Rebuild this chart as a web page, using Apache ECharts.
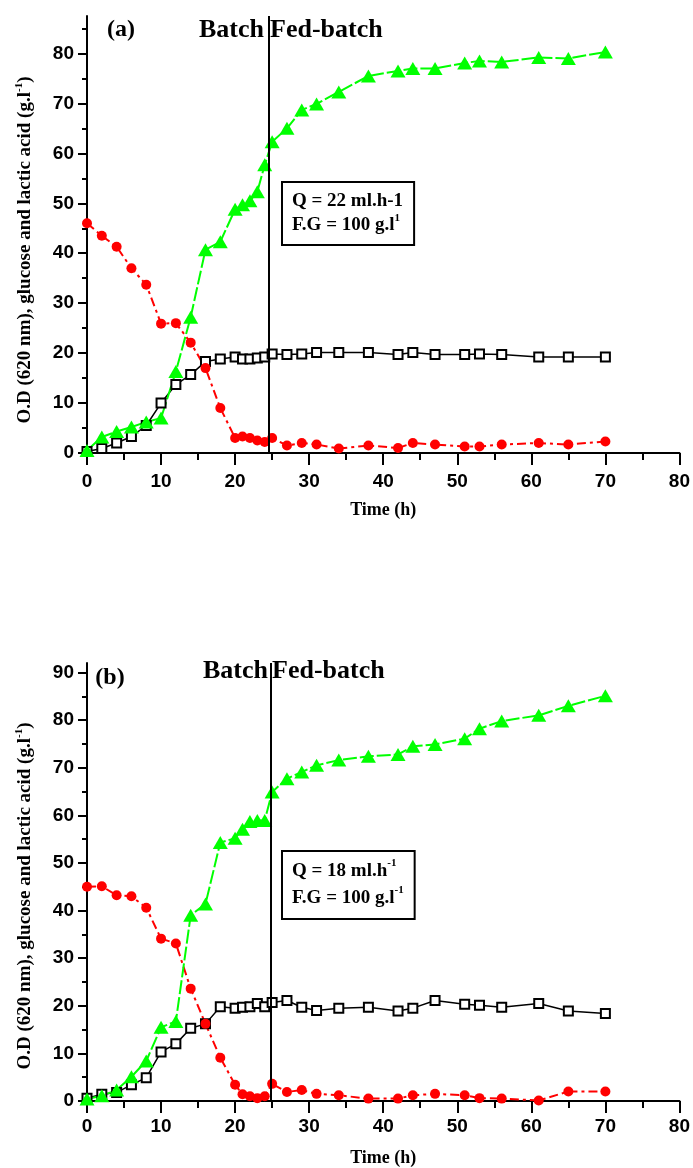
<!DOCTYPE html>
<html>
<head>
<meta charset="utf-8">
<title>Batch / Fed-batch</title>
<script src="https://cdn.jsdelivr.net/npm/echarts@6/dist/echarts.min.js"></script>
<style>
  html, body { margin: 0; padding: 0; background: #fff; }
  #main { width: 693px; height: 1168px; }
</style>
</head>
<body>
<div id="main"></div>
<script>
// sampling times (h), shared by both runs
var hours = [0, 2, 4, 6, 8, 10, 12, 14, 16, 18, 20, 21, 22, 23, 24, 25, 27, 29, 31, 34, 38, 42, 44, 47, 51, 53, 56, 61, 65, 70];

// (a) Q = 22 ml/h
var odA = [0.3, 0.9, 2.0, 3.3, 5.5, 10.0, 13.7, 15.7, 18.3, 18.8, 19.2, 18.8, 18.8, 19.0, 19.2, 19.8, 19.7, 19.8, 20.1, 20.1, 20.1, 19.7, 20.1, 19.7, 19.7, 19.8, 19.7, 19.2, 19.2, 19.2];
var glucoseA = [46.0, 43.5, 41.3, 37.0, 33.7, 25.9, 26.0, 22.1, 17.0, 9.0, 3.0, 3.3, 3.0, 2.5, 2.2, 3.0, 1.5, 2.0, 1.7, 0.9, 1.5, 1.0, 2.0, 1.7, 1.3, 1.3, 1.7, 2.0, 1.7, 2.3];
var lacticA = [0.5, 3.2, 4.3, 5.2, 6.2, 7.0, 16.3, 27.2, 40.7, 42.3, 48.8, 49.7, 50.5, 52.3, 57.7, 62.3, 65.0, 68.7, 69.9, 72.3, 75.5, 76.5, 77.0, 77.0, 78.1, 78.5, 78.3, 79.2, 79.0, 80.3];

// (b) Q = 18 ml/h
var odB = [0.6, 1.4, 1.8, 3.4, 4.9, 10.3, 12.0, 15.3, 16.2, 19.8, 19.5, 19.7, 19.8, 20.5, 19.8, 20.7, 21.1, 19.7, 19.0, 19.5, 19.7, 18.9, 19.5, 21.1, 20.3, 20.1, 19.7, 20.5, 18.9, 18.4];
var glucoseB = [45.0, 45.1, 43.2, 43.0, 40.6, 34.1, 33.1, 23.6, 16.2, 9.1, 3.4, 1.4, 1.0, 0.6, 1.0, 3.6, 1.9, 2.3, 1.5, 1.2, 0.5, 0.5, 1.2, 1.5, 1.2, 0.6, 0.5, 0.1, 2.0, 2.0];
var lacticB = [0.4, 1.1, 2.3, 5.1, 8.4, 15.5, 16.7, 39.0, 41.4, 54.3, 55.2, 57.1, 58.7, 58.9, 58.9, 64.9, 67.7, 69.1, 70.5, 71.6, 72.4, 72.8, 74.5, 74.9, 76.1, 78.2, 79.8, 81.0, 83.0, 85.1];

// switch from batch to fed-batch (h)
var switchA = 24.5;
var switchB = 24.8;

// axis ticks
var xTicks = [0, 10, 20, 30, 40, 50, 60, 70, 80];
var yTicksA = [0, 10, 20, 30, 40, 50, 60, 70, 80];
var yMinorA = [5, 15, 25, 35, 45, 55, 65, 75, 85];
var yTicksB = [0, 10, 20, 30, 40, 50, 60, 70, 80, 90];
var yMinorB = [5, 15, 25, 35, 45, 55, 65, 75, 85];
var yMaxA = 87.5;
var yMaxB = 92;

var serif = 'Liberation Serif';
var sans = 'Liberation Sans';

function pairs(xs, ys) {
  var out = [];
  for (var i = 0; i < xs.length; i++) {
    out.push([xs[i], ys[i]]);
  }
  return out;
}

function xAxisFor(gridIndex, labelMargin, nameGap) {
  return {
    type: 'value',
    gridIndex: gridIndex,
    min: xTicks[0],
    max: xTicks[xTicks.length - 1],
    interval: 10,
    name: 'Time (h)',
    nameLocation: 'middle',
    nameGap: nameGap,
    nameTextStyle: { fontFamily: serif, fontWeight: 'bold', fontSize: 18, color: '#000' },
    axisLine: { lineStyle: { color: '#000', width: 2 } },
    axisTick: { length: 12, lineStyle: { color: '#000', width: 2 } },
    minorTick: { show: true, splitNumber: 2, length: 7, lineStyle: { color: '#000', width: 2 } },
    axisLabel: { margin: labelMargin, fontFamily: sans, fontWeight: 'bold', fontSize: 19, color: '#000' },
    splitLine: { show: false },
    minorSplitLine: { show: false }
  };
}

function yAxisMain(gridIndex, max, ticks) {
  return {
    type: 'value',
    gridIndex: gridIndex,
    position: 'left',
    min: 0,
    max: max,
    axisLine: { show: true, lineStyle: { color: '#000', width: 2 } },
    axisTick: { show: true, length: 9, customValues: ticks, lineStyle: { color: '#000', width: 2 } },
    axisLabel: { margin: 13, customValues: ticks, fontFamily: sans, fontWeight: 'bold', fontSize: 19, color: '#000' },
    splitLine: { show: false }
  };
}

// second axis on the same side, only to draw the short half-step ticks
function yAxisMinor(gridIndex, max, ticks) {
  return {
    type: 'value',
    gridIndex: gridIndex,
    position: 'left',
    offset: 0,
    min: 0,
    max: max,
    axisLine: { show: false },
    axisTick: { show: true, length: 5, customValues: ticks, lineStyle: { color: '#000', width: 2 } },
    axisLabel: { show: false },
    splitLine: { show: false }
  };
}

function seriesFor(xi, yi, od, glucose, lactic, switchAt) {
  return [
    {
      name: 'O.D',
      type: 'line',
      xAxisIndex: xi,
      yAxisIndex: yi,
      data: pairs(hours, od),
      symbol: 'rect',
      symbolSize: 9,
      itemStyle: { color: '#fff', borderColor: '#000', borderWidth: 2 },
      lineStyle: { color: '#000', width: 1.5 },
      markLine: {
        silent: true,
        symbol: ['none', 'none'],
        label: { show: false },
        lineStyle: { color: '#000', width: 2, type: 'solid' },
        data: [{ xAxis: switchAt }]
      }
    },
    {
      name: 'Glucose',
      type: 'line',
      xAxisIndex: xi,
      yAxisIndex: yi,
      data: pairs(hours, glucose),
      symbol: 'circle',
      symbolSize: 10,
      itemStyle: { color: '#ff0000' },
      lineStyle: { color: '#ff0000', width: 2, type: [9, 4, 3, 4] }
    },
    {
      name: 'Lactic acid',
      type: 'line',
      xAxisIndex: xi,
      yAxisIndex: yi,
      data: pairs(hours, lactic),
      symbol: 'triangle',
      symbolSize: [15, 13],
      itemStyle: { color: '#00ff00' },
      lineStyle: { color: '#00ff00', width: 2, type: [14, 3] }
    }
  ];
}

var titleFont = { fontFamily: serif, fontWeight: 'bold', fill: '#000' };
var yName = '{n|O.D (620 nm), glucose and lactic acid (g.l}{s|-1}{n|)}';
var yNameRich = {
  n: { fontFamily: serif, fontWeight: 'bold', fontSize: 19, lineHeight: 22, color: '#000' },
  s: { fontFamily: serif, fontWeight: 'bold', fontSize: 11, lineHeight: 22, verticalAlign: 'top', color: '#000' }
};

function boxRich(lh) {
  return {
    t: { fontFamily: serif, fontWeight: 'bold', fontSize: 19, lineHeight: lh, color: '#000' },
    s: { fontFamily: serif, fontWeight: 'bold', fontSize: 11, lineHeight: lh, verticalAlign: 'top', color: '#000' }
  };
}

function label(x, y, text, size, align) {
  return {
    type: 'text',
    x: x,
    y: y,
    silent: true,
    style: {
      text: text,
      fontFamily: titleFont.fontFamily,
      fontWeight: titleFont.fontWeight,
      fontSize: size,
      fill: titleFont.fill,
      align: align,
      textAlign: align,
      verticalAlign: 'middle',
      textVerticalAlign: 'middle'
    }
  };
}

function yNameText(x, y) {
  return {
    type: 'text',
    x: x,
    y: y,
    rotation: Math.PI / 2,
    silent: true,
    style: {
      text: yName,
      rich: yNameRich,
      align: 'center',
      textAlign: 'center',
      verticalAlign: 'middle',
      textVerticalAlign: 'middle'
    }
  };
}

function box(x, y, text, lh, padding) {
  return {
    type: 'text',
    x: x,
    y: y,
    silent: true,
    style: {
      text: text,
      rich: boxRich(lh),
      padding: padding,
      borderColor: '#000',
      borderWidth: 2,
      backgroundColor: '#fff',
      align: 'left',
      verticalAlign: 'top'
    }
  };
}

var chart = echarts.init(document.getElementById('main'));

var option = {
  animation: false,
  backgroundColor: '#fff',
  grid: [
    { left: 87, right: 13, top: 16, bottom: 715 },
    { left: 87, right: 13, top: 663, bottom: 67 }
  ],
  xAxis: [
    xAxisFor(0, 19, 48),
    xAxisFor(1, 16, 48)
  ],
  yAxis: [
    yAxisMain(0, yMaxA, yTicksA),
    yAxisMinor(0, yMaxA, yMinorA),
    yAxisMain(1, yMaxB, yTicksB),
    yAxisMinor(1, yMaxB, yMinorB)
  ],
  series: seriesFor(0, 0, odA, glucoseA, lacticA, switchA)
    .concat(seriesFor(1, 2, odB, glucoseB, lacticB, switchB)),
  graphic: [
    label(121, 30, '(a)', 24, 'center'),
    label(264, 30, 'Batch', 26, 'right'),
    label(270, 30, 'Fed-batch', 26, 'left'),
    label(110, 678, '(b)', 24, 'center'),
    label(268, 671, 'Batch', 26, 'right'),
    label(272, 671, 'Fed-batch', 26, 'left'),
    yNameText(25, 250),
    yNameText(25, 896),
    box(283, 183, '{t|Q = 22 ml.h-1}\n{t|F.G = 100 g.l}{s|1}', 24, [6, 10, 7, 9]),
    box(283, 852, '{t|Q = 18 ml.h}{s|-1}\n{t|F.G = 100 g.l}{s|-1}', 27, [6, 10, 6, 9])
  ]
};

chart.setOption(option);
</script>
</body>
</html>
